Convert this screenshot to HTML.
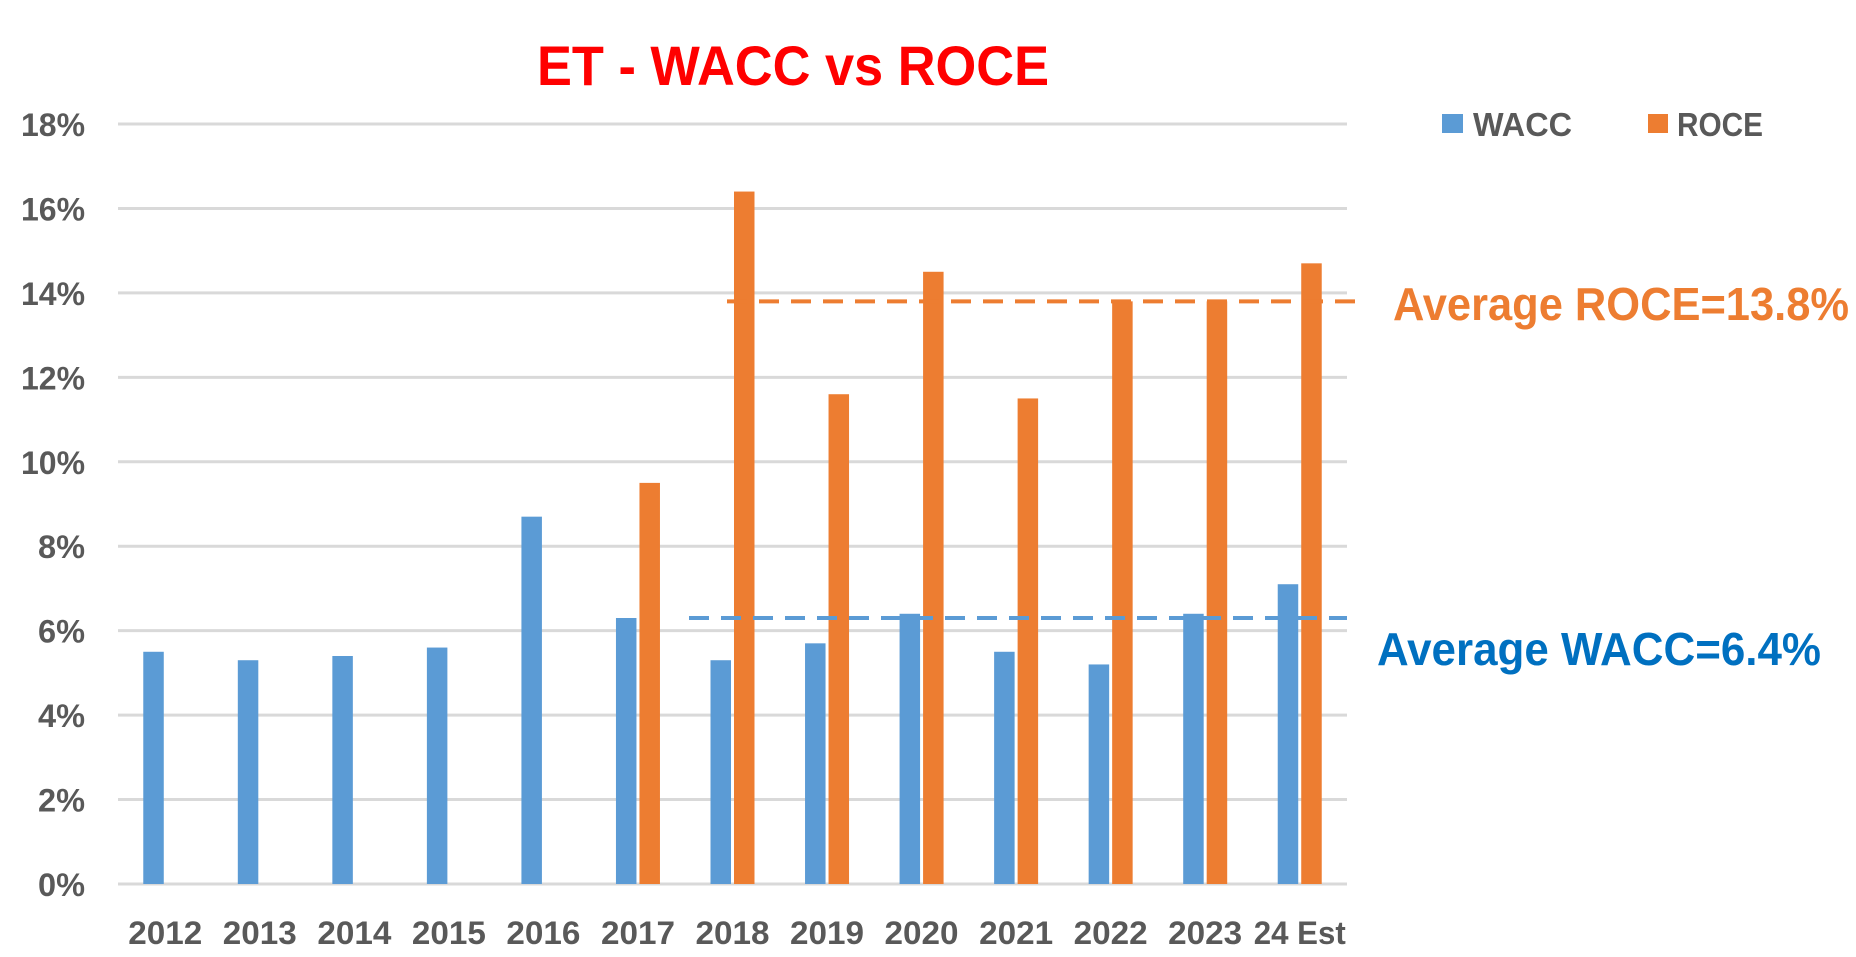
<!DOCTYPE html>
<html><head><meta charset="utf-8"><style>
html,body{margin:0;padding:0;background:#fff;}
svg{display:block;font-family:"Liberation Sans",sans-serif;}
</style></head><body>
<svg id="chart" width="1856" height="957" viewBox="0 0 1856 957">
<text x="793" y="85" text-anchor="middle" font-size="56" font-weight="bold" fill="#ff0000" textLength="512" lengthAdjust="spacingAndGlyphs">ET - WACC vs ROCE</text>
<g id="grid"></g><g id="bars"></g><g id="lines"></g><g id="labels"></g>
<g>
<rect x="1442" y="114" width="21" height="19" fill="#5b9bd5"/>
<text x="1473" y="136" font-size="33" font-weight="bold" fill="#595959" textLength="99" lengthAdjust="spacingAndGlyphs">WACC</text>
<rect x="1648" y="114" width="20" height="19" fill="#ed7d31"/>
<text x="1677" y="136" font-size="33" font-weight="bold" fill="#595959" textLength="86" lengthAdjust="spacingAndGlyphs">ROCE</text>
</g>
<text x="1393" y="320" font-size="46" font-weight="bold" fill="#ed7d31" textLength="456" lengthAdjust="spacingAndGlyphs">Average ROCE=13.8%</text>
<text x="1377" y="665" font-size="46" font-weight="bold" fill="#0070c0" textLength="444" lengthAdjust="spacingAndGlyphs">Average WACC=6.4%</text>
</svg>
<script>
const categories=["2012","2013","2014","2015","2016","2017","2018","2019","2020","2021","2022","2023","24 Est"];
const wacc=[5.5,5.3,5.4,5.6,8.7,6.3,5.3,5.7,6.4,5.5,5.2,6.4,7.1];
const roce=[null,null,null,null,null,9.5,16.4,11.6,14.5,11.5,13.8,13.8,14.7];
const yTicks=[0,2,4,6,8,10,12,14,16,18];
const avgRoce=13.8, avgWacc=6.3;
const NS="http://www.w3.org/2000/svg";
const L=118,R=1347,T=124,B=884,yMax=18;
const cw=(R-L)/categories.length;
const y=v=>B-(v/yMax)*(B-T);
const xc=i=>L+cw*(i+0.5);
function mk(tag,attrs,parent){const e=document.createElementNS(NS,tag);for(const k in attrs)e.setAttribute(k,attrs[k]);document.getElementById(parent).appendChild(e);return e;}
yTicks.forEach(t=>{
 const g=mk('line',{x1:L,x2:R,y1:y(t),y2:y(t),stroke:'#d9d9d9','stroke-width':3},'grid');
 
 
 const tx=mk('text',{x:85,y:y(t)+12,'text-anchor':'end','font-size':32,'font-weight':'bold',fill:'#595959',textLength:t>=10?64:47,lengthAdjust:'spacingAndGlyphs'},'labels');
 tx.textContent=t+'%';
 
 
});
const bw=20.5,gap=3;
categories.forEach((c,i)=>{
 const cx=xc(i);
 const wb=mk('rect',{x:cx-gap/2-bw,y:y(wacc[i]),width:bw,height:B-y(wacc[i]),fill:'#5b9bd5'},'bars');
 
 
 if(roce[i]!=null){
  const rb=mk('rect',{x:cx+gap/2,y:y(roce[i]),width:bw,height:B-y(roce[i]),fill:'#ed7d31'},'bars');
  
  
 }
 const tx=mk('text',{x:cx,y:944,'text-anchor':'middle','font-size':32,'font-weight':'bold',fill:'#595959',textLength:c.length>4?92:74,lengthAdjust:'spacingAndGlyphs'},'labels');
 tx.textContent=c;
 
 
});
const rl=mk('line',{x1:727,x2:1361,y1:y(avgRoce),y2:y(avgRoce),stroke:'#ed7d31','stroke-width':4,'stroke-dasharray':'20 12'},'lines');


const wl=mk('line',{x1:689,x2:1347,y1:y(avgWacc),y2:y(avgWacc),stroke:'#5b9bd5','stroke-width':4,'stroke-dasharray':'20 12'},'lines');


</script>
</body></html>
